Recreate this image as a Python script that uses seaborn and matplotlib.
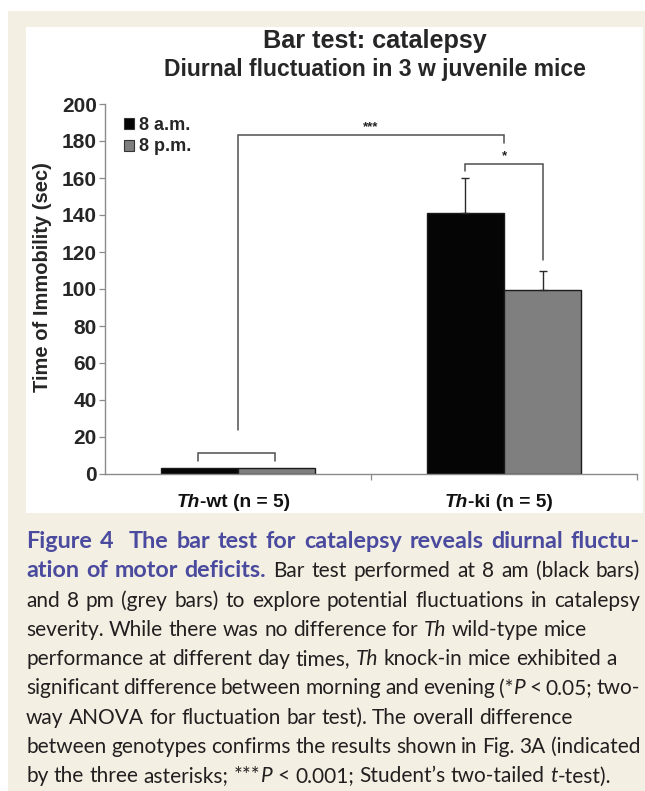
import numpy as np
import pandas as pd
import matplotlib
matplotlib.use("Agg")
import matplotlib.pyplot as plt
import seaborn as sns
from matplotlib.patches import Rectangle, Patch
from matplotlib.transforms import IdentityTransform

# ---------------- data ----------------
genotypes = ["Th-wt", "Th-ki"]
times = ["8 a.m.", "8 p.m."]
am_means = [3.0, 141.0]
pm_means = [3.5, 99.5]
am_err = [0.0, 19.0]
pm_err = [0.0, 10.5]
yticks = [0, 20, 40, 60, 80, 100, 120, 140, 160, 180, 200]
xlab_italic = ["Th", "Th"]
xlab_rest = ["-wt (n = 5)", "-ki (n = 5)"]
title = "Bar test: catalepsy"
subtitle = "Diurnal fluctuation in 3 w juvenile mice"
ylabel = "Time of Immobility (sec)"
sig_labels = ["***", "*", ""]

caption_lines = [
    [("Figure 4  The bar test for catalepsy reveals diurnal fluctu-", "b")],
    [("ation of motor deficits.", "b"), (" Bar test performed at 8 am (black bars)", "r")],
    [("and 8 pm (grey bars) to explore potential fluctuations in catalepsy", "r")],
    [("severity. While there was no difference for ", "r"), ("Th", "i"), (" wild-type mice", "r")],
    [("performance at different day times, ", "r"), ("Th", "i"), (" knock-in mice exhibited a", "r")],
    [("significant difference between morning and evening (*", "r"), ("P", "i"), (" < 0.05; two-", "r")],
    [("way ANOVA for fluctuation bar test). The overall difference", "r")],
    [("between genotypes confirms the results shown in Fig. 3A (indicated", "r")],
    [("by the three asterisks; ***", "r"), ("P", "i"), (" < 0.001; Student\u2019s two-tailed ", "r"), ("t", "i"), ("-test).", "r")],
]
caption_justify = [True, True, True, False, False, True, False, True, False]

# ---------------- style ----------------
W, H = 645, 791
sns.set_theme(style="white")
plt.rcParams["font.family"] = ["Liberation Sans", "DejaVu Sans"]

fig = plt.figure(figsize=(W / 100, H / 100), dpi=100)
fig.patch.set_facecolor("white")
fig.add_artist(Rectangle((8 / W, 0), 1 - 8 / W, (H - 11) / H, transform=fig.transFigure,
                         facecolor="#f3efe2", edgecolor="none", zorder=-3))
fig.add_artist(Rectangle((26 / W, 1 - 513 / H), 617 / W, 486 / H, transform=fig.transFigure,
                         facecolor="white", edgecolor="none", zorder=-2))

ax = fig.add_axes([105 / W, 1 - 474 / H, 532 / W, 370 / H])
ax.set_facecolor("none")
ax.set_zorder(1)

df = pd.DataFrame({
    "genotype": genotypes * 2,
    "time": [times[0]] * 2 + [times[1]] * 2,
    "value": am_means + pm_means,
})
bar_colors = ["#050505", "#7f7f7f"]
sns.barplot(data=df, x="genotype", y="value", hue="time", order=genotypes, hue_order=times,
            palette=bar_colors, edgecolor="#1a1a1a", linewidth=1.0, width=0.58, gap=0,
            errorbar=None, legend=False, ax=ax)

errs = [am_err, pm_err]
bar_conts = list(ax.containers)
centers = []
for ci, cont in enumerate(bar_conts):
    xs = np.array([b.get_x() + b.get_width() / 2 for b in cont])
    tops = np.array([b.get_height() for b in cont])
    centers.append(xs)
    e = np.array(errs[ci])
    m = e > 0
    ax.errorbar(xs[m], tops[m], yerr=[np.zeros(m.sum()), e[m]], fmt="none",
                ecolor="#2a2a2a", elinewidth=1.0, capsize=3, capthick=1.0, zorder=3)

ax.set_xlim(-0.5, 1.5)
ax.set_ylim(0, 200)
ax.set_yticks(yticks)
ax.set_yticklabels([str(v) for v in yticks], fontsize=15, fontweight="bold")
ax.set_xticks([0.5, 1.5])
ax.set_xticklabels(["", ""])
ax.set_xlabel("")
ax.set_ylabel(ylabel, fontsize=14.5, fontweight="bold")
ax.yaxis.set_label_coords((52 - 105) / 532, (474 - 277) / 370)
ax.tick_params(axis="both", direction="out", length=4, width=0.9, color="#8a8a8a",
               left=True, bottom=True, pad=2)
for s in ["top", "right"]:
    ax.spines[s].set_visible(False)
for s in ["left", "bottom"]:
    ax.spines[s].set_color("#8a8a8a")
    ax.spines[s].set_linewidth(1.0)

# significance brackets (x from bar centres)
wt_c, ki_c = 0, 1
am_x, pm_x = centers[0], centers[1]
brackets = [
    (wt_c, ki_c, 24, 183, 179),
    (am_x[1], pm_x[1], 164, 167.5, 115.5),
    (am_x[0] - 0.005, pm_x[0] - 0.005, 7, 11.3, 7),
]
for (x1, x2, y1, ytop, y2), lab in zip(brackets, sig_labels):
    ax.plot([x1, x1, x2, x2], [y1, ytop, ytop, y2], color="#505050", lw=1.1,
            solid_joinstyle="miter", zorder=4)
    if lab:
        ax.text((x1 + x2) / 2, ytop + 1.0, lab, ha="center", va="bottom",
                fontsize=9.5, fontweight="bold", color="#222222")

handles = [Patch(facecolor=bar_colors[0], edgecolor="#333333", linewidth=0.8),
           Patch(facecolor=bar_colors[1], edgecolor="#333333", linewidth=0.8)]
ax.legend(handles, times, loc="upper left", bbox_to_anchor=(0.035, 0.965), frameon=False,
          handlelength=0.55, handleheight=0.55, handletextpad=0.3, labelspacing=0.25,
          borderpad=0, borderaxespad=0, prop=dict(weight="bold", size=13))

# titles
fig.text(375 / W, 1 - 48 / H, title, ha="center", va="baseline", fontsize=18.2, fontweight="bold")
fig.text(375 / W, 1 - 76 / H, subtitle, ha="center", va="baseline", fontsize=16.5, fontweight="bold")

# ---------------- mixed-style text helpers ----------------
renderer = fig.canvas.get_renderer()
ID = IdentityTransform()


def measure(s, style):
    t = fig.text(0, 0, s, transform=ID, **style)
    w = t.get_window_extent(renderer).width
    t.remove()
    return w


def draw_word(x, y, segs, styles):
    for s, k in segs:
        t = fig.text(x, y, s, transform=ID, ha="left", va="baseline", **styles[k])
        x += t.get_window_extent(renderer).width
    return x


# x tick labels (italic "Th" + bold rest)
xl_styles = {"i": dict(fontsize=13.8, fontweight="bold", fontstyle="italic", color="#111111"),
             "r": dict(fontsize=13.8, fontweight="bold", color="#111111")}
for k, (it, rest) in enumerate(zip(xlab_italic, xlab_rest)):
    segs = [(it, "i"), (rest, "r")]
    wtot = sum(measure(s, xl_styles[st]) for s, st in segs)
    xc = ax.transData.transform((k, 0))[0] - 5
    draw_word(xc - wtot / 2, H - 507, segs, xl_styles)


# caption
def make_styles(fs, bscale=1.0):
    base = dict(fontfamily=["Lato", "DejaVu Sans"], fontsize=fs)
    return {"b": dict(base, fontweight="bold", color="#4a4a9f", fontsize=fs * bscale),
            "r": dict(base, color="#231f20"),
            "i": dict(base, fontstyle="italic", color="#231f20")}


def tokenize(segs):
    words = [[]]
    for txt, st in segs:
        parts = txt.split(" ")
        for k, p in enumerate(parts):
            if k > 0:
                words.append([])
            if p:
                words[-1].append((p, st))
    return words


def natural(words, styles):
    ws = [sum(measure(s, styles[st]) for s, st in w) for w in words]
    sp = measure("a a", styles["r"]) - measure("aa", styles["r"])
    return ws, sp


def nat_width(segs, styles, spf=1.0):
    ws, sp = natural(tokenize(segs), styles)
    return sum(ws) + sp * spf * (len(ws) - 1)


fs = 15.0
styles = make_styles(fs)
fs = fs * (622 - 26) / nat_width(caption_lines[8], styles)
styles = make_styles(fs)
maxw = max(nat_width(s, styles, 0.7) for s, j in zip(caption_lines[2:], caption_justify[2:]) if j)
if maxw > 614:
    fs *= 614 / maxw
    styles = make_styles(fs)
# bold (Gill-like) is wider than regular: scale bold so line 1 sets with normal spacing
bs = 1.0
for _ in range(3):
    bs *= 612 / nat_width(caption_lines[0], make_styles(fs, bs))
bs = min(max(bs, 1.0), 1.12)
styles = make_styles(fs, bs)

x0, x1 = 26, 640
for i, (segs, j) in enumerate(zip(caption_lines, caption_justify)):
    words = tokenize(segs)
    ws, sp = natural(words, styles)
    gap = (x1 - x0 - sum(ws)) / (len(ws) - 1) if j else sp
    y = H - (548 + i * 29.3)
    x = x0
    for w, wd in zip(words, ws):
        draw_word(x, y, w, styles)
        x += wd + gap

fig.savefig("out.png", dpi=100, facecolor=fig.get_facecolor())
